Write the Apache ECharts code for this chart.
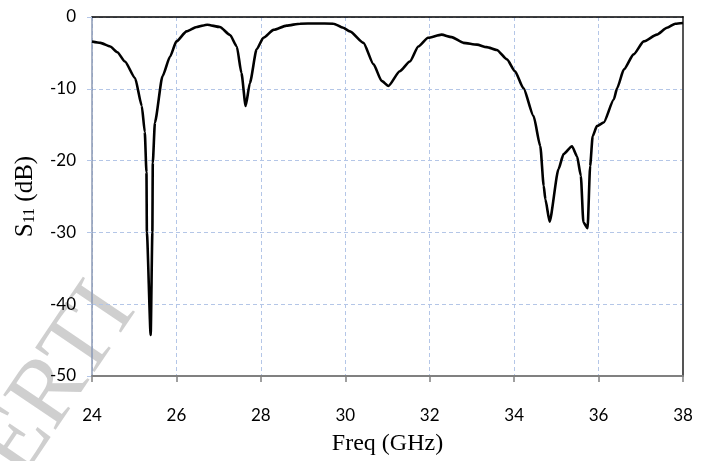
<!DOCTYPE html>
<html>
<head>
<meta charset="utf-8">
<script src="https://cdn.jsdelivr.net/npm/echarts@6/dist/echarts.min.js"></script>
<style>html,body{margin:0;padding:0;background:#fff}#c{width:709px;height:461px}</style>
</head>
<body>
<div id="c"></div>
<script>
const freqGHz = [24.0,24.2,24.43,24.6,24.78,25.02,25.18,25.25,25.29,25.30,25.39,25.43,25.44,25.49,25.67,25.85,26.0,26.24,26.48,26.73,27.03,27.27,27.43,27.54,27.64,27.74,27.9,28.06,28.3,28.61,28.93,29.3,29.72,29.95,30.11,30.43,30.67,30.86,31.02,31.29,31.53,31.73,31.96,32.28,32.52,32.8,33.12,33.35,33.59,33.83,34.02,34.22,34.46,34.62,34.7,34.74,34.84,35.05,35.17,35.37,35.49,35.58,35.64,35.74,35.8,35.86,35.96,36.12,36.36,36.44,36.6,36.83,37.07,37.38,37.62,37.82,38.0];
const s11dB = [-3.4,-3.6,-4.1,-4.9,-6.2,-8.5,-12.4,-16,-21.6,-30,-44.3,-30,-20.3,-14.7,-8.25,-5.5,-3.4,-2.0,-1.4,-1.07,-1.4,-2.5,-4.1,-7.8,-12.4,-9.2,-4.5,-2.9,-1.8,-1.2,-0.93,-0.9,-0.93,-1.5,-2.0,-3.6,-6.6,-8.9,-9.6,-7.55,-6.2,-4.1,-2.9,-2.46,-2.8,-3.6,-3.85,-4.2,-4.6,-5.9,-7.55,-9.9,-13.8,-18,-23.5,-25.4,-28.5,-21.2,-19.1,-18.0,-19.4,-22.1,-28.6,-29.4,-20.75,-16.6,-15.2,-14.7,-11.5,-9.9,-7.3,-5.2,-3.4,-2.46,-1.5,-0.93,-0.83];
const xTicks = [24,26,28,30,32,34,36,38];
const yTicks = [0,-10,-20,-30,-40,-50];
const xTitle = 'Freq (GHz)';
const watermark = 'ERTI';

const chart = echarts.init(document.getElementById('c'));
const gridColor = '#b4c6e7';
chart.setOption({
  animation: false,
  backgroundColor: '#fff',
  grid: { left: 92, right: 26, top: 17, bottom: 84 },
  graphic: { z: 0, elements: [{
    type: 'text', x: 58, y: 381, rotation: 56 * Math.PI / 180, silent: true,
    style: { text: watermark, font: '96px "Liberation Serif"', fill: 'rgba(175,175,175,0.6)', textAlign: 'center', textVerticalAlign: 'middle' }
  }] },
  xAxis: [{
    type: 'value', min: xTicks[0], max: xTicks[xTicks.length - 1], interval: 2, z: 3,
    name: xTitle, nameLocation: 'middle', nameGap: 56,
    nameTextStyle: { fontFamily: 'Liberation Serif', fontSize: 24, color: '#000' },
    axisLine: { show: true, onZero: false, lineStyle: { color: '#808080', width: 2 } },
    axisTick: { show: true, length: 6, lineStyle: { color: '#808080', width: 1.5 } },
    axisLabel: { margin: 31, fontFamily: 'Lato', fontSize: 17, color: '#000' },
    splitLine: { show: true, lineStyle: { color: gridColor, type: [4, 3], width: 1 } }
  }, {
    type: 'value', position: 'top', min: 24, max: 38, z: 3,
    axisLine: { show: true, onZero: false, lineStyle: { color: '#000', width: 1.5 } },
    axisTick: { show: false }, axisLabel: { show: false }, splitLine: { show: false }
  }],
  yAxis: [{
    type: 'value', min: yTicks[yTicks.length - 1], max: yTicks[0], interval: 10, z: 3,
    name: '{s|S}{sub|11}{s| (dB)}', nameLocation: 'middle', nameGap: 54,
    nameTextStyle: { rich: {
      s: { fontFamily: 'Liberation Serif', fontSize: 25, color: '#000' },
      sub: { fontFamily: 'Liberation Serif', fontSize: 16, color: '#000', verticalAlign: 'bottom', padding: [8, 0, 0, 0] }
    } },
    axisLine: { show: true, onZero: false, lineStyle: { color: '#8c9ab4', width: 1.5 } },
    axisTick: { show: true, inside: false, length: 5, lineStyle: { color: gridColor, width: 1 } },
    axisLabel: { margin: 16, fontFamily: 'Lato', fontSize: 17, color: '#000' },
    splitLine: { show: true, lineStyle: { color: gridColor, type: [4, 3], width: 1 } }
  }, {
    type: 'value', position: 'right', min: -50, max: 0, z: 3,
    axisLine: { show: true, onZero: false, lineStyle: { color: '#555', width: 2 } },
    axisTick: { show: false }, axisLabel: { show: false }, splitLine: { show: false }
  }],
  series: [{
    type: 'line',
    data: freqGHz.map((f, i) => [f, s11dB[i]]),
    showSymbol: false,
    smooth: 0.2,
    smoothMonotone: 'x',
    lineStyle: { color: '#000', width: 2.6 },
    z: 5
  }]
});
</script>
</body>
</html>
